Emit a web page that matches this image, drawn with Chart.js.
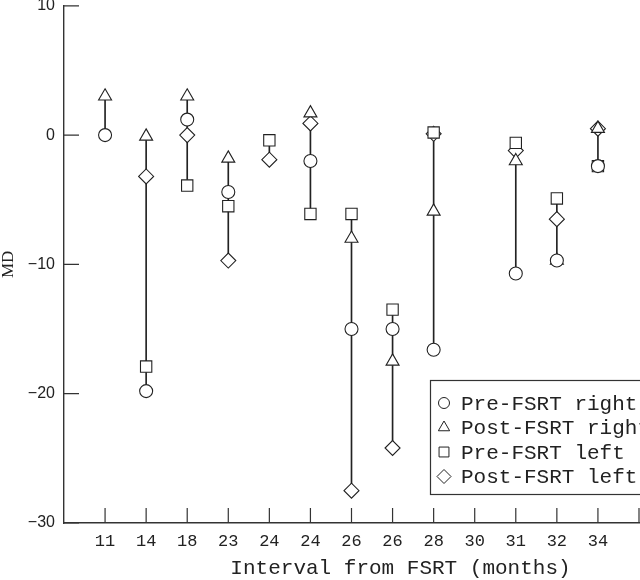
<!DOCTYPE html>
<html>
<head>
<meta charset="utf-8">
<script src="https://cdn.jsdelivr.net/npm/chart.js@4/dist/chart.umd.min.js"></script>
<style>
  html, body { margin: 0; padding: 0; background: #fff; overflow: hidden; }
  /* canvas a bit taller and pulled up so the "10" label gets cut like the scan */
  #c { display: block; margin-top: -8px; }
</style>
</head>
<body>
<canvas id="c" width="640" height="588"></canvas>
<script>
'use strict'

// categories along the x axis (months), the 30 slot has no patients
const categories = ['11', '14', '18', '23', '24', '24', '26', '26', '28', '30', '31', '32', '34'];

// MD values per category, null = no marker
const preRight  = [0, -19.8, 1.2, -4.4, null, -2.0, -15.0, -15.0, -16.6, null, -10.7, -9.7, -2.4];
const postRight = [3.0, -0.1, 3.0, -1.8, null, 1.7, -8.0, -17.5, -5.9, null, -2.0, -9.7, 0.5];
const preLeft   = [null, -17.9, -3.9, -5.5, -0.4, -6.1, -6.1, -13.5, 0.2, null, -0.6, -4.9, -2.4];
const postLeft  = [null, -3.2, 0.0, -9.7, -1.9, 0.9, -27.5, -24.2, 0.1, null, -1.2, -6.5, 0.5];

const seriesNames = ['Pre-FSRT right', 'Post-FSRT right', 'Pre-FSRT left', 'Post-FSRT left'];
const yTicks = [10, 0, -10, -20, -30];
const xTitle = 'Interval from FSRT (months)';

const ink = '#222';

// one point per category, slot i+1 on a 0..14 axis
const toPoints = arr => arr.map((v, i) => v === null ? null : { x: i + 1, y: v }).filter(p => p);

// vertical range line for each category (min..max of all four series)
const ranges = categories.map((c, i) => {
  const vals = [preRight[i], postRight[i], preLeft[i], postLeft[i]].filter(v => v !== null);
  if (!vals.length) return null;
  return { x: i + 1, y: [Math.min(...vals), Math.max(...vals)] };
}).filter(r => r);

const marker = (label, data, style, r) => ({
  type: 'scatter',
  label: label,
  data: toPoints(data),
  pointStyle: style,
  pointRadius: r,
  pointHoverRadius: r,
  pointBackgroundColor: '#fff',
  pointBorderColor: ink,
  pointBorderWidth: 1.1,
  order: 0
});

// ticks pointing into the plot, like the original
const tickMarks = {
  id: 'tickMarks',
  afterDatasetsDraw(chart) {
    const { ctx, chartArea: a, scales: { x, y } } = chart;
    ctx.save();
    ctx.strokeStyle = '#333';
    ctx.lineWidth = 1.2;
    ctx.beginPath();
    for (let i = 1; i <= 14; i++) {
      const px = x.getPixelForValue(i);
      ctx.moveTo(px, a.bottom);
      ctx.lineTo(px, a.bottom - 15);
    }
    yTicks.forEach(v => {
      const py = y.getPixelForValue(v);
      ctx.moveTo(a.left, py);
      ctx.lineTo(a.left + 15, py);
    });
    ctx.stroke();
    ctx.restore();
  }
};

// boxed legend in the lower right corner, runs off the canvas edge
const boxLegend = {
  id: 'boxLegend',
  afterDraw(chart) {
    const { ctx, chartArea: a } = chart;
    const left = a.right - 209, top = a.bottom - 143;
    ctx.save();
    ctx.fillStyle = '#fff';
    ctx.fillRect(left, top, 240, 114);
    ctx.strokeStyle = '#333';
    ctx.lineWidth = 1.2;
    ctx.strokeRect(left + 0.5, top + 0.5, 240, 114);
    const sizes = [5.5, 6.5, 7, 7];
    ctx.font = '21px "Liberation Mono", monospace';
    ctx.textBaseline = 'middle';
    chart.data.datasets.filter(d => d.type === 'scatter').forEach((d, i) => {
      const cy = top + 23 + i * 24.5;
      ctx.strokeStyle = ink;
      ctx.fillStyle = '#fff';
      ctx.lineWidth = 1;
      Chart.helpers.drawPoint(ctx, { pointStyle: d.pointStyle, radius: sizes[i], borderWidth: 1, rotation: 0 }, left + 14, cy);
      ctx.fillStyle = ink;
      ctx.fillText(d.label, left + 31, cy + 1);
    });
    ctx.restore();
  }
};

// x axis title, sits right of centre in the original
const axisTitle = {
  id: 'axisTitle',
  afterDraw(chart) {
    const { ctx, chartArea: a } = chart;
    ctx.save();
    ctx.font = '21px "Liberation Mono", monospace';
    ctx.fillStyle = ink;
    ctx.textAlign = 'center';
    ctx.textBaseline = 'middle';
    ctx.fillText(xTitle, (a.left + a.right) / 2 + 49, a.bottom + 45);
    ctx.restore();
  }
};

new Chart(document.getElementById('c'), {
  data: {
    datasets: [
      {
        type: 'bar',
        label: 'range',
        data: ranges,
        backgroundColor: ink,
        borderWidth: 0,
        barThickness: 1,
        grouped: false,
        order: 10
      },
      marker(seriesNames[0], preRight, 'circle', 6.5),
      marker(seriesNames[1], postRight, 'triangle', 7.5),
      marker(seriesNames[2], preLeft, 'rect', 8),
      marker(seriesNames[3], postLeft, 'rectRot', 7.5)
    ]
  },
  options: {
    responsive: false,
    animation: false,
    layout: { autoPadding: false, padding: { top: 13, right: 1, left: 0, bottom: 0 } },
    plugins: {
      legend: { display: false },
      tooltip: { enabled: false }
    },
    scales: {
      x: {
        type: 'linear',
        offset: false,
        min: 0,
        max: 14,
        afterFit(s) { s.height = 57; s.paddingRight = 0; s.paddingLeft = 0; },
        afterBuildTicks(s) { s.ticks = categories.map((c, i) => ({ value: i + 1 })).concat([{ value: 14 }]); },
        ticks: {
          autoSkip: false,
          maxRotation: 0,
          padding: 8,
          color: ink,
          font: { family: '"Liberation Mono", monospace', size: 17 },
          callback: v => categories[v - 1] || ''
        },
        grid: { display: false, drawTicks: false, offset: false },
        border: { display: true, color: '#333', width: 1.4 }
      },
      y: {
        min: -30,
        max: 10,
        afterFit(s) { s.width = 64; },
        afterBuildTicks(s) { s.ticks = yTicks.map(v => ({ value: v })); },
        ticks: {
          padding: 9,
          color: ink,
          font: { family: '"Liberation Sans", sans-serif', size: 16, lineHeight: 0.6 },
          callback: v => String(v).replace('-', '\u2212')
        },
        grid: { display: false, drawTicks: false },
        border: { display: true, color: '#333', width: 1.4 },
        title: {
          display: true,
          text: 'MD',
          color: ink,
          padding: { top: 0, bottom: 0 },
          font: { family: '"Liberation Serif", serif', size: 17, lineHeight: 1 }
        }
      }
    }
  },
  plugins: [tickMarks, boxLegend, axisTitle]
});
</script>
</body>
</html>
